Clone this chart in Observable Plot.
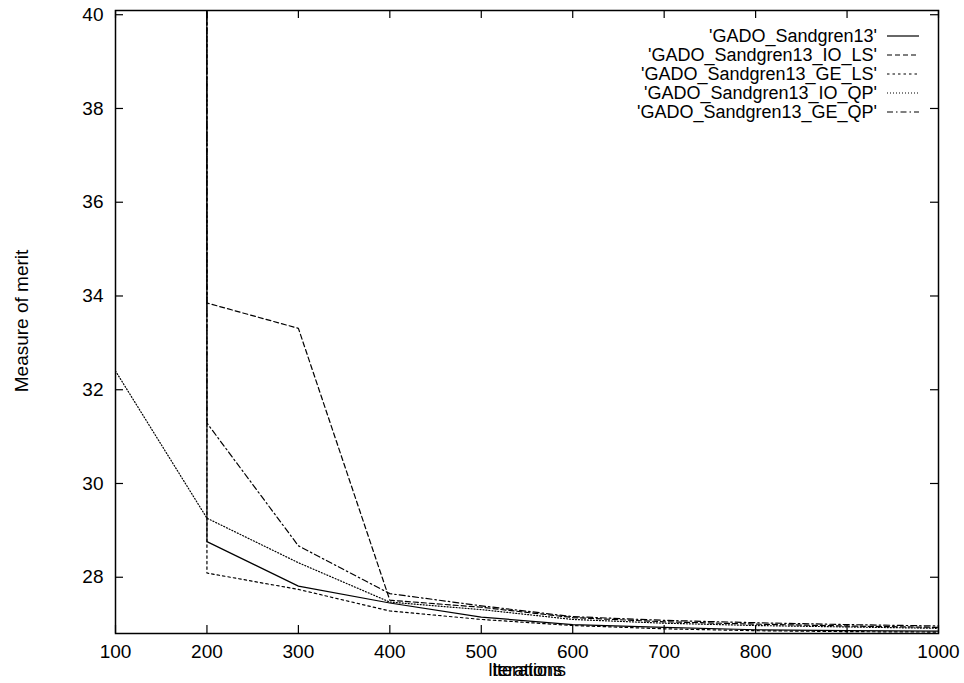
<!DOCTYPE html>
<html><head><meta charset="utf-8">
<script src="https://cdn.jsdelivr.net/npm/d3@7"></script>
<script src="https://cdn.jsdelivr.net/npm/@observablehq/plot@0.6"></script>
<style>body{margin:0;background:#fff;} svg{display:block}</style>
</head><body><div id="chart"></div>
<script>
// Data (value at 100 for most series is far off the chart)
const iterations = [100, 200, 300, 400, 500, 600, 700, 800, 900, 1000];
const seriesNames = ["'GADO_Sandgren13'", "'GADO_Sandgren13_IO_LS'", "'GADO_Sandgren13_GE_LS'", "'GADO_Sandgren13_IO_QP'", "'GADO_Sandgren13_GE_QP'"];
const sandgren13   = [10000, 28.76, 27.81, 27.45, 27.15, 26.99, 26.93, 26.88, 26.86, 26.85];
const sandgrenIOLS = [10000, 33.85, 33.31, 27.51, 27.36, 27.14, 27.05, 27.00, 26.96, 26.93];
const sandgrenGELS = [10000, 28.09, 27.74, 27.28, 27.10, 26.97, 26.90, 26.86, 26.84, 26.83];
const sandgrenIOQP = [32.40, 29.26, 28.31, 27.47, 27.31, 27.10, 27.02, 26.97, 26.94, 26.91];
const sandgrenGEQP = [10000, 31.29, 28.67, 27.65, 27.39, 27.16, 27.08, 27.03, 26.99, 26.96];
const xTicks = [100, 200, 300, 400, 500, 600, 700, 800, 900, 1000];
const yTicks = [28, 30, 32, 34, 36, 38, 40];
const xLabel = "Iterations";
const yLabel = "Measure of merit";

const seriesValues = [sandgren13, sandgrenIOLS, sandgrenGELS, sandgrenIOQP, sandgrenGEQP];
const dashes = ["none", "5,3", "2.5,3", "1,2", "6,3,1.5,3"];

const W = 964, H = 683, mL = 115, mR = 26, mT = 10, mB = 50;
const pw = W - mL - mR, ph = H - mT - mB;
const font = "'Liberation Sans', Arial, Helvetica, sans-serif";

const lineMarks = seriesValues.map((vals, k) =>
  Plot.line(iterations.map((x, i) => ({x, y: vals[i]})), {
    x: "x", y: "y", stroke: "black", strokeWidth: 1.2,
    strokeDasharray: dashes[k], clip: true
  })
);

const plot = Plot.plot({
  width: W, height: H,
  marginLeft: mL, marginRight: mR, marginTop: mT, marginBottom: mB,
  style: {fontFamily: font, fontSize: "19px", color: "#000", background: "#fff", overflow: "visible"},
  x: {domain: [100, 1000]},
  y: {domain: [26.8, 40.09]},
  marks: [
    ...lineMarks,
    Plot.ruleX(xTicks, {x: d => d, insetTop: ph - 8, stroke: "black", strokeWidth: 1.2}),
    Plot.ruleX(xTicks, {x: d => d, insetBottom: ph - 8, stroke: "black", strokeWidth: 1.2}),
    Plot.ruleY(yTicks, {y: d => d, insetRight: pw - 8, stroke: "black", strokeWidth: 1.2}),
    Plot.ruleY(yTicks, {y: d => d, insetLeft: pw - 8, stroke: "black", strokeWidth: 1.2}),
    Plot.axisX(xTicks, {tickSize: 0, tickPadding: 11, label: null, fontSize: 19, tickFormat: d => String(d)}),
    Plot.axisY(yTicks, {tickSize: 0, tickPadding: 12, label: null, fontSize: 19, tickFormat: d => String(d)}),
    Plot.frame({stroke: "black", strokeWidth: 1.5})
  ]
});

document.getElementById("chart").appendChild(plot);

const svg = d3.select(plot);
// axis titles
svg.append("text").attr("transform", "translate(21,321) rotate(-90)")
  .attr("text-anchor", "middle").attr("dy", "0.35em")
  .style("font-family", font).style("font-size", "19px").attr("fill", "black").text(yLabel);
svg.append("text").attr("x", 525).attr("y", 670)
  .attr("text-anchor", "middle").attr("dy", "0.35em")
  .style("font-family", font).style("font-size", "18px")
  .style("text-shadow", "4px 0 0 #000").attr("fill", "black").text(xLabel);

// legend
const legendY = [36, 55, 74, 93, 112];
seriesNames.forEach((name, i) => {
  svg.append("text").attr("x", 877).attr("y", legendY[i]).attr("dy", "0.35em")
    .attr("text-anchor", "end").style("font-family", font).style("font-size", "18px")
    .attr("fill", "black").text(name);
  svg.append("line").attr("x1", 887).attr("x2", 919).attr("y1", legendY[i]).attr("y2", legendY[i])
    .attr("stroke", "black").attr("stroke-width", 1.2)
    .attr("stroke-dasharray", dashes[i] === "none" ? null : dashes[i]);
});
</script>
</body></html>
